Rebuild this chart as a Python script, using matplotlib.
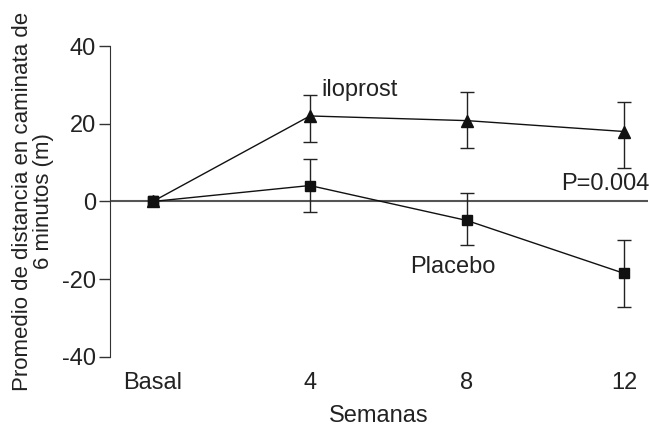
import matplotlib
matplotlib.use('Agg')
import matplotlib.pyplot as plt
import numpy as np

plt.rcParams['font.family'] = ['Liberation Sans', 'DejaVu Sans']
plt.rcParams['axes.unicode_minus'] = False

# datos
semanas = ['Basal', '4', '8', '12']
iloprost = [0, 22, 20.8, 18]
ilo_sup = [0, 27.4, 28.2, 25.6]
ilo_inf = [0, 15.4, 13.8, 8.7]
placebo = [0, 4.1, -4.9, -18.5]
pla_sup = [0, 10.8, 2.3, -10]
pla_inf = [0, -2.8, -11.3, -27.2]

x = np.arange(len(semanas))
ilo = np.array(iloprost)
pla = np.array(placebo)
ilo_err = [ilo - np.array(ilo_inf), np.array(ilo_sup) - ilo]
pla_err = [pla - np.array(pla_inf), np.array(pla_sup) - pla]

fs = 17
fig = plt.figure(figsize=(6.5, 4.3), dpi=100)
ax = fig.add_axes([0.169, 0.170, 0.828, 0.723])

ax.axhline(0, color='#555555', lw=1.5, zorder=1)
ax.errorbar(x[1:], ilo[1:], yerr=[e[1:] for e in ilo_err], fmt='none',
            ecolor='#222222', elinewidth=1, capsize=5, capthick=1, zorder=2)
ax.errorbar(x[1:], pla[1:], yerr=[e[1:] for e in pla_err], fmt='none',
            ecolor='#222222', elinewidth=1, capsize=5, capthick=1, zorder=2)
ax.plot(x, ilo, color='#111111', lw=1, marker='^', ms=8.5, zorder=3)
ax.plot(x, pla, color='#111111', lw=1, marker='s', ms=7, zorder=3)
ax.plot(x[0], 0, 's', color='#111111', ms=7, zorder=4)

ax.text(1.076, 28.7, 'iloprost', fontsize=fs, ha='left', va='center', color='#222222')
ax.text(1.637, -16.9, 'Placebo', fontsize=fs, ha='left', va='center', color='#222222')
ax.text(3.16, 4.6, 'P=0.004', fontsize=fs, ha='right', va='center', color='#222222')

ax.set_xlim(-0.274, 3.153)
ax.set_ylim(-40, 40)
ax.set_yticks([-40, -20, 0, 20, 40])
ax.set_xticks(x)
ax.set_xticklabels(semanas)
ax.tick_params(axis='x', length=0, pad=11, labelsize=fs, labelcolor='#222222')
ax.tick_params(axis='y', length=8, width=1, pad=2, labelsize=fs, labelcolor='#222222', color='#333333')
for s in ['top', 'right', 'bottom']:
    ax.spines[s].set_visible(False)
ax.spines['left'].set_color('#333333')

ax.set_xlabel('Semanas', fontsize=fs, color='#222222', labelpad=8)
ax.set_ylabel('Promedio de distancia en caminata de\n6 minutos (m)', fontsize=16,
              color='#222222', linespacing=1.0, labelpad=6)

fig.savefig('out.png', dpi=100)
